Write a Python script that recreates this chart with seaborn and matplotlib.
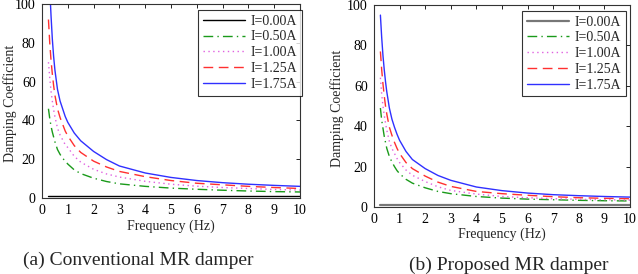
import pandas as pd
import seaborn as sns
import matplotlib.pyplot as plt

# frequency points (Hz)
freq = [0.25, 0.3, 0.35, 0.4, 0.45, 0.5, 0.6, 0.7, 0.8, 0.9, 1.0, 1.25, 1.5,
        2.0, 2.5, 3.0, 4.0, 5.0, 6.0, 7.0, 8.0, 9.0, 10.0]

currents = ["I=0.00A", "I=0.50A", "I=1.00A", "I=1.25A", "I=1.75A"]

# (a) conventional MR damper
conv_000 = [1.0] * len(freq)
conv_050 = [46, 41, 37, 34, 31.5, 29, 25, 22.5, 20.5, 19, 17.5, 14.5, 12.6,
            10.2, 8.5, 7.3, 6.0, 5.1, 4.5, 4.0, 3.6, 3.3, 3.1]
conv_100 = [70, 62, 55, 50, 45.5, 42, 36, 32.5, 30, 27.5, 26, 21.5, 18.5,
            14.8, 12.4, 10.8, 8.6, 7.1, 6.1, 5.4, 4.9, 4.4, 4.1]
conv_125 = [92, 80, 71, 64, 58, 53, 46, 41.5, 38, 34.5, 32, 27, 23.5,
            19, 16, 13.7, 11.0, 9.0, 7.6, 6.8, 6.0, 5.4, 4.9]
conv_175 = [125, 108, 94, 82, 73, 66, 56, 50, 46, 42, 39, 33.5, 29.5,
            24, 19.8, 16.5, 12.9, 10.6, 9.0, 7.9, 7.1, 6.5, 6.0]

# (b) proposed MR damper
prop_000 = [1.0] * len(freq)
prop_050 = [49, 43, 39, 35, 32, 29, 25, 22.3, 20, 18, 16.5, 13.7, 11.8,
            9.5, 7.7, 6.6, 5.2, 4.4, 3.9, 3.6, 3.3, 3.1, 3.0]
prop_100 = [64, 56, 50, 45.5, 41.5, 38, 32.5, 29, 26.5, 24, 22, 18.3, 15.7,
            12.6, 10.0, 8.2, 6.4, 5.2, 4.6, 4.1, 3.8, 3.6, 3.4]
prop_125 = [77, 68, 61, 55, 50, 46, 39.5, 35.5, 32, 29, 26.5, 22, 19,
            15.3, 12.3, 10.2, 7.7, 6.6, 5.8, 5.1, 4.6, 4.3, 4.1]
prop_175 = [95, 84, 75, 68, 62, 57, 49, 43.5, 39.5, 36, 33, 27.5, 23.5,
            19, 15.6, 13.2, 9.9, 8.1, 6.9, 6.1, 5.6, 5.2, 4.9]

sns.set_style("white")
plt.rcParams['font.family'] = ['Liberation Serif', 'DejaVu Serif']

colors = ["black", "#1a9a1a", "#e060e0", "#ff3030", "#3030ff"]
styles = ["-", (0, (7, 3, 1, 3)), (0, (1, 2.5)), (0, (7, 4)), "-"]

fig = plt.figure(figsize=(6.38, 2.74), dpi=100)
W, H = 638, 274


def add_axes(x0, x1, ytop, ybot):
    return fig.add_axes([x0 / W, 1 - ybot / H, (x1 - x0) / W, (ybot - ytop) / H])


ax_a = add_axes(42, 300, 4, 198)
ax_b = add_axes(374, 630, 5, 207)

panels = [
    # axes, series, legend anchor, xlabel y, ylabel x
    (ax_a, [conv_000, conv_050, conv_100, conv_125, conv_175], (1.006, 0.97), -0.148, -0.124),
    (ax_b, [prop_000, prop_050, prop_100, prop_125, prop_175], (0.984, 0.972), -0.135, -0.145),
]

for ax, series, loc, xl_y, yl_x in panels:
    for name, vals, c, ls in zip(currents, series, colors, styles):
        lw = 1.0
        if ax is ax_b and name == "I=0.00A":
            c, lw = "#777777", 1.6
        df = pd.DataFrame({"Frequency": freq, "Damping": vals})
        sns.lineplot(data=df, x="Frequency", y="Damping", ax=ax, color=c,
                     linestyle=ls, linewidth=lw, label=name)
    ax.set_xlim(0, 10)
    ax.set_ylim(0, 100)
    ax.set_xticks(range(0, 11))
    ax.set_yticks(range(0, 101, 20))
    ax.tick_params(direction="in", length=3, width=0.6, top=True, right=True,
                   labelsize=10, pad=4.5, colors="black")
    for s in ax.spines.values():
        s.set_color("#333333")
        s.set_linewidth(0.8)
    ax.set_xlabel("Frequency (Hz)", fontsize=10, va="center")
    ax.set_ylabel("Damping Coefficient", fontsize=10, va="center")
    ax.xaxis.set_label_coords(0.5, xl_y)
    ax.yaxis.set_label_coords(yl_x, 0.49)
    leg = ax.legend(loc="upper right", bbox_to_anchor=loc, fontsize=10,
                    handlelength=3.0, handletextpad=0.4, labelspacing=0.2,
                    borderpad=0.35, frameon=True, fancybox=False,
                    borderaxespad=0.0)
    leg.get_frame().set_edgecolor("black")
    leg.get_frame().set_linewidth(0.8)

fig.text(138 / W, 1 - 260 / H, "(a) Conventional MR damper", ha="center",
         va="center", fontsize=14)
fig.text(509 / W, 1 - 265 / H, "(b) Proposed MR damper", ha="center",
         va="center", fontsize=14)

fig.savefig("out.png", dpi=100)
